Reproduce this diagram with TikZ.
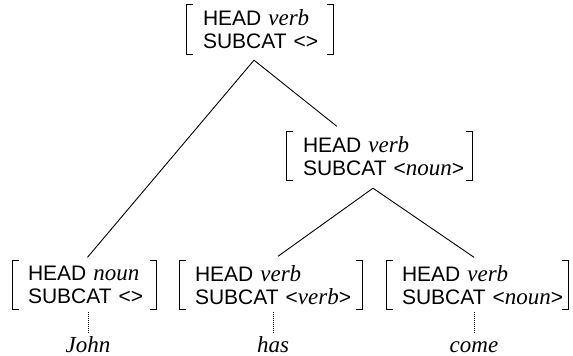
\documentclass[tikz,border=0pt]{standalone}
\usepackage{fontspec}
\setmainfont{Liberation Sans}
\newfontfamily\tmsfont{Liberation Serif}
\newcommand\vv[1]{{\tmsfont\itshape\fontsize{23}{23}\selectfont #1}}
\begin{document}
\begin{tikzpicture}[x=1pt,y=-1pt,
  avm/.style={inner xsep=0pt, inner ysep=0pt, align=left, minimum height=49pt,
              font=\fontsize{21}{23}\selectfont},
  brk/.style={line width=1.1pt},
  edge/.style={line width=0.9pt},
  lex/.style={font=\fontsize{23}{23}\selectfont\tmsfont\itshape, inner sep=0pt, anchor=base},
  dots/.style={line width=1pt, dash pattern=on 1pt off 1pt}]
\useasboundingbox (0,0) rectangle (573,356);
\node[avm, text width=146pt] (top) at (260,29.5)
  {\mbox{\hspace*{16pt}HEAD \vv{verb}}\\\mbox{\hspace*{16pt}SUBCAT <>}};
\node[avm, text width=185pt] (mid) at (379.5,156)
  {\mbox{\hspace*{16pt}HEAD \vv{verb}}\\\mbox{\hspace*{16pt}SUBCAT <\vv{noun}>}};
\node[avm, text width=143pt] (l) at (84.5,285)
  {\mbox{\hspace*{15pt}HEAD \vv{noun}}\\\mbox{\hspace*{15pt}SUBCAT <>}};
\node[avm, text width=182pt] (m) at (271,285)
  {\mbox{\hspace*{15pt}HEAD \vv{verb}}\\\mbox{\hspace*{15pt}SUBCAT <\vv{verb}>}};
\node[avm, text width=181pt] (r) at (477.5,285)
  {\mbox{\hspace*{15pt}HEAD \vv{verb}}\\\mbox{\hspace*{15pt}SUBCAT <\vv{noun}>}};
\foreach \n in {top,mid,l,m,r}
  \draw[brk] ([xshift=6pt]\n.north west) -| (\n.south west) -- ++(6,0)
             ([xshift=-6pt]\n.north east) -| (\n.south east) -- ++(-6,0);
\coordinate (topj) at ([shift={(-6,6)}]top.south);
\coordinate (midj) at ([shift={(-6.5,7.5)}]mid.south);
\draw[edge] (topj) -- ([shift={(3,-3)}]l.north);
\draw[edge] (topj) -- ([shift={(50,-5)}]mid.north west);
\draw[edge] (midj) -- ([shift={(7,-4)}]m.north);
\draw[edge] (midj) -- ([shift={(-3.5,-3)}]r.north);
\node[lex] (john) at (88,352) {John};
\node[lex] (has) at (273,352) {has};
\node[lex] (come) at (474,352) {come};
\draw[dots] ([yshift=-2pt]l.south -| john) -- ++(0,21);
\draw[dots] ([yshift=-2pt]m.south -| has) -- ++(0,21);
\draw[dots] ([yshift=-2pt]r.south -| come) -- ++(0,21);
\end{tikzpicture}
\end{document}
